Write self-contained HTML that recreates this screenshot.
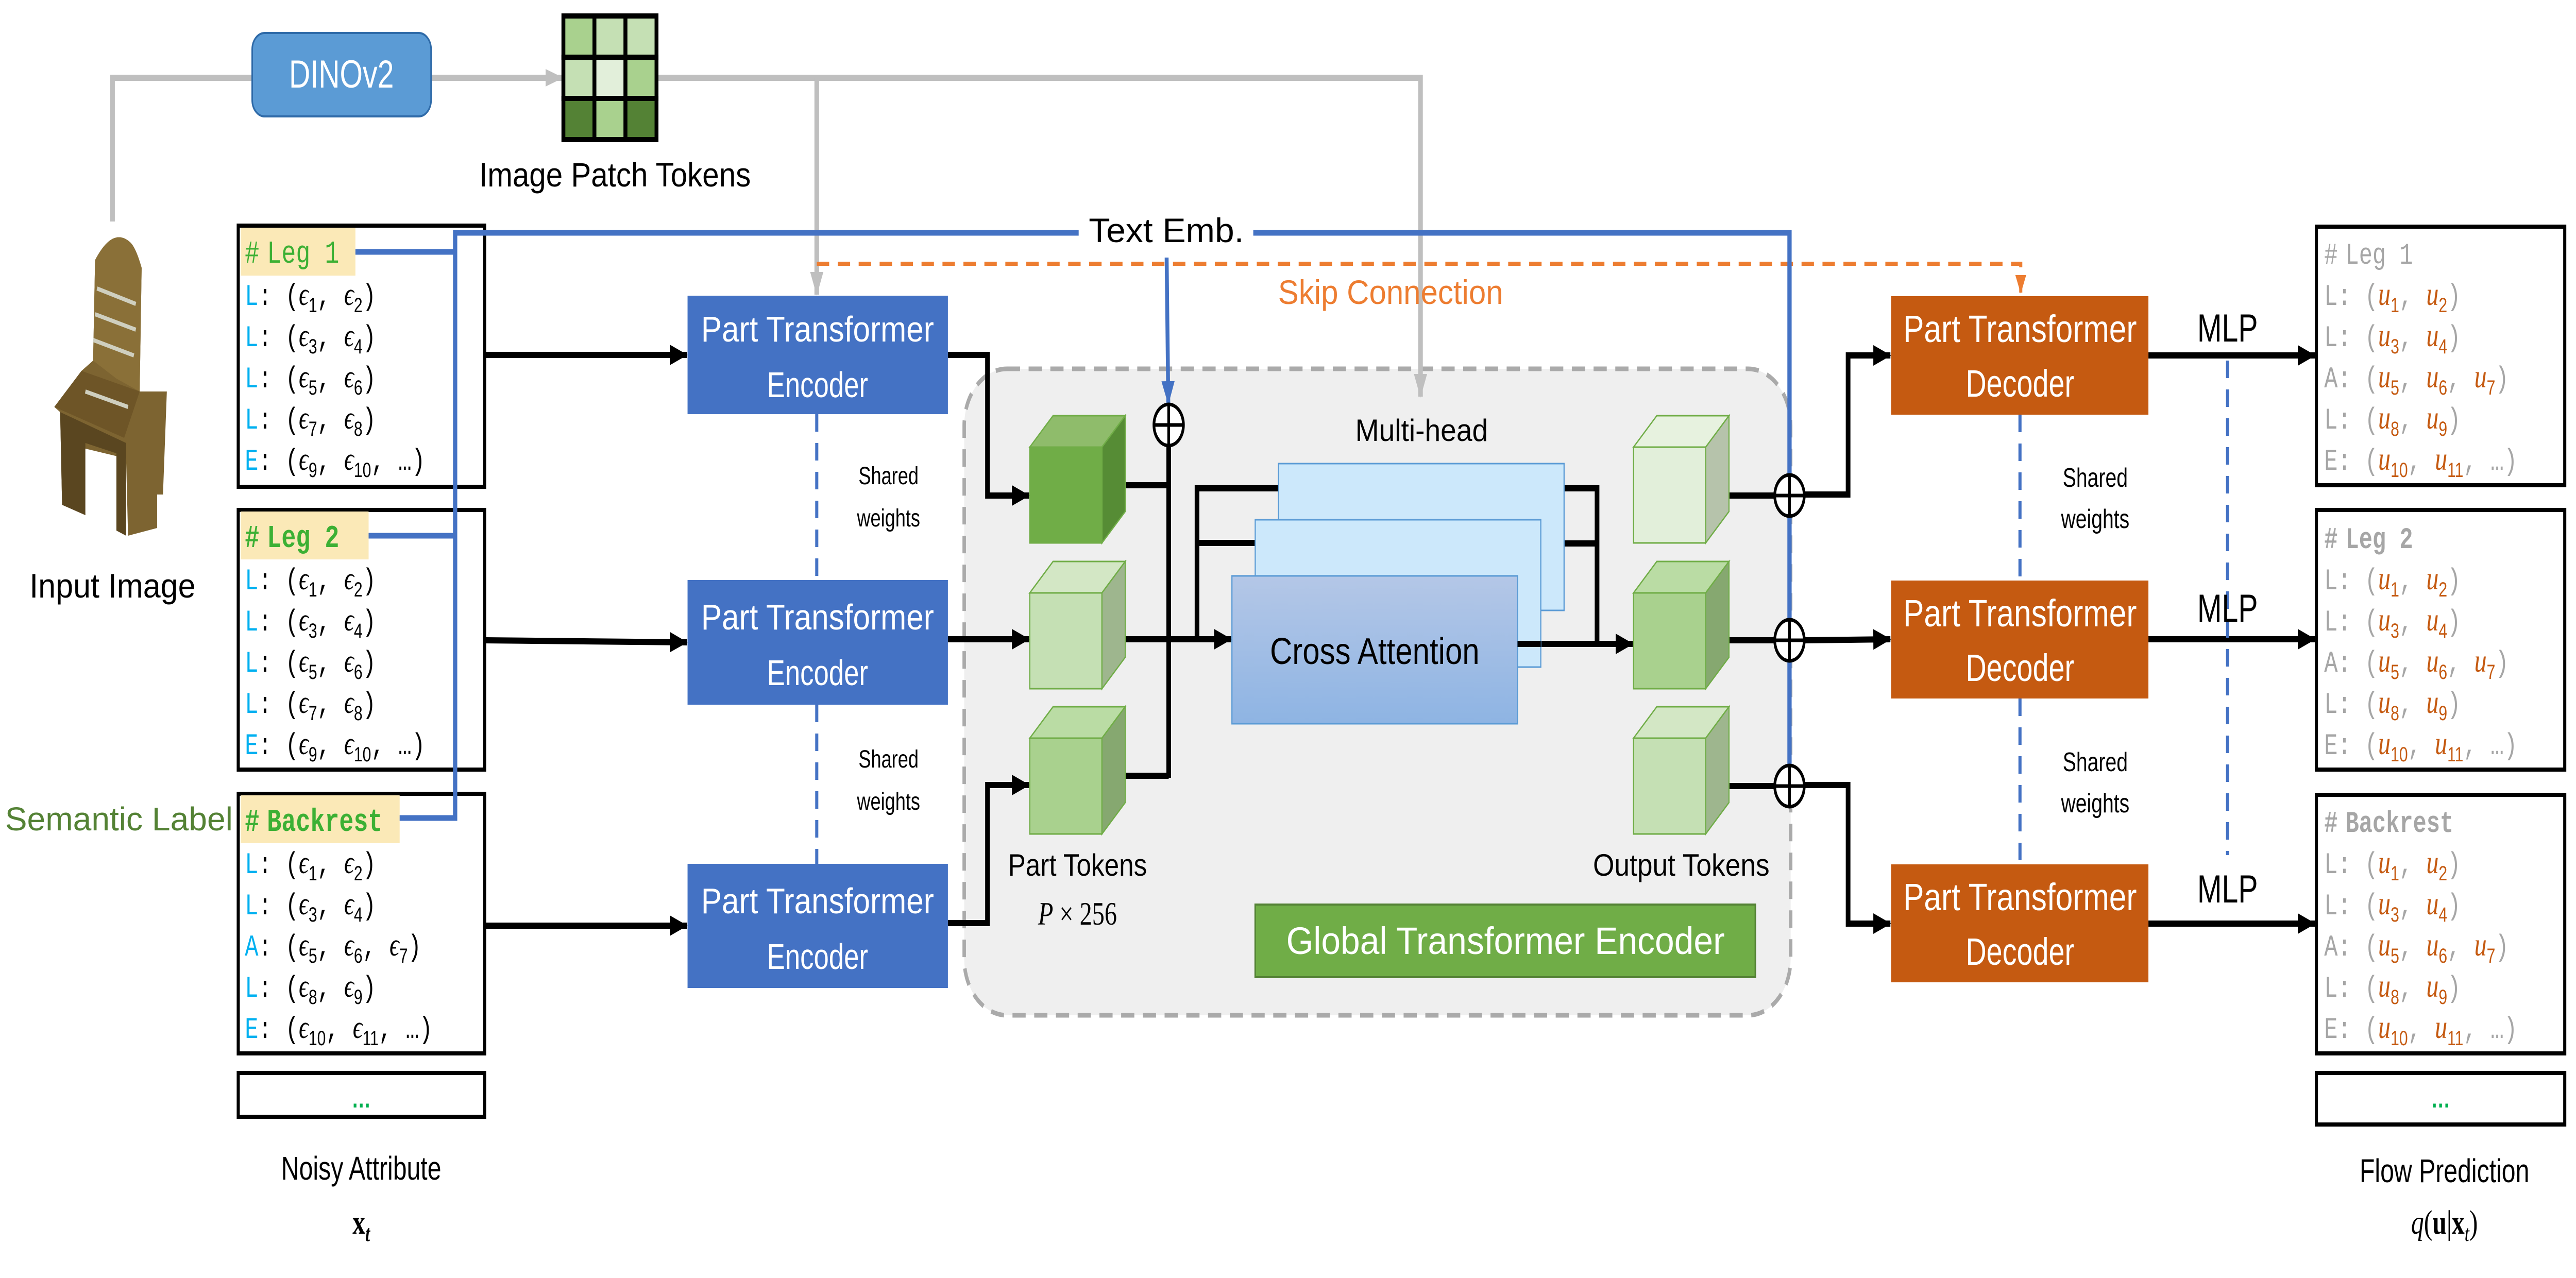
<!DOCTYPE html>
<html><head><meta charset="utf-8"><style>
html,body{margin:0;padding:0;background:#fff;width:100%;height:100%;overflow:hidden;}
svg{display:block;position:absolute;left:0;top:0;width:100vw;height:100vh;}
.sans{font-family:"Liberation Sans",sans-serif;}
.mono{font-family:"Liberation Mono",monospace;font-size:58px;fill:#000;}
.e{font-family:"Liberation Serif",serif;font-style:italic;font-size:62px;}
.s{font-family:"Liberation Sans",sans-serif;font-size:40px;}
.g{fill:#a6a6a6;}
.u{font-family:"Liberation Serif",serif;font-style:italic;font-size:64px;fill:#c55a11;}
.us{font-family:"Liberation Sans",sans-serif;font-size:40px;fill:#c55a11;}
</style></head><body>
<svg viewBox="0 0 6639 2481" preserveAspectRatio="none" xmlns="http://www.w3.org/2000/svg">
<defs>
<marker id="ak" markerUnits="userSpaceOnUse" markerWidth="50" markerHeight="50" refX="44" refY="25" orient="auto"><path d="M0,5 L46,25 L0,45 z" fill="#000"/></marker>
<marker id="ag" markerUnits="userSpaceOnUse" markerWidth="50" markerHeight="50" refX="44" refY="25" orient="auto"><path d="M0,8 L46,25 L0,42 z" fill="#bfbfbf"/></marker>
<marker id="ab" markerUnits="userSpaceOnUse" markerWidth="50" markerHeight="50" refX="44" refY="25" orient="auto"><path d="M0,8 L46,25 L0,42 z" fill="#4472c4"/></marker>
<marker id="ao" markerUnits="userSpaceOnUse" markerWidth="40" markerHeight="40" refX="34" refY="20" orient="auto"><path d="M0,6 L36,20 L0,34 z" fill="#ed7d31"/></marker>
<linearGradient id="ca" x1="0" y1="0" x2="0" y2="1"><stop offset="0" stop-color="#b4c7e7"/><stop offset="1" stop-color="#8eb4e3"/></linearGradient>
</defs>

<rect x="2485" y="716" width="2130" height="1255" rx="110" fill="#efefef" stroke="#aaaaaa" stroke-width="9" stroke-dasharray="34 22"/>

<polyline points="290,430 290,151 650,151" fill="none" stroke="#bfbfbf" stroke-width="12"/>
<line x1="1111" y1="151" x2="1450" y2="151" stroke="#bfbfbf" stroke-width="12" marker-end="url(#ag)"/>
<polyline points="1694,151 3661,151 3661,770" fill="none" stroke="#bfbfbf" stroke-width="12" marker-end="url(#ag)"/>
<line x1="2105" y1="151" x2="2105" y2="572" stroke="#bfbfbf" stroke-width="12" marker-end="url(#ag)"/>

<rect x="650" y="64" width="461" height="162" rx="32" fill="#5b9bd5" stroke="#2e6aa8" stroke-width="4"/>
<text x="880" y="170" text-anchor="middle" class="sans" font-size="76" fill="#fff">DINOv2</text>

<g stroke="#000" stroke-width="10">
<rect x="1452" y="31" width="80" height="80" fill="#a9d18e"/><rect x="1532" y="31" width="80" height="80" fill="#c5e0b4"/><rect x="1612" y="31" width="80" height="80" fill="#c5e0b4"/>
<rect x="1452" y="111" width="80" height="80" fill="#c5e0b4"/><rect x="1532" y="111" width="80" height="80" fill="#e2efda"/><rect x="1612" y="111" width="80" height="80" fill="#a9d18e"/>
<rect x="1452" y="191" width="80" height="80" fill="#548235"/><rect x="1532" y="191" width="80" height="80" fill="#a9d18e"/><rect x="1612" y="191" width="80" height="80" fill="#548235"/>
</g>
<text x="1585" y="362" text-anchor="middle" class="sans" font-size="66" textLength="700" lengthAdjust="spacingAndGlyphs">Image Patch Tokens</text>

<g>
<path d="M245,505 Q290,440 335,470 Q350,480 365,520 L360,760 L430,760 L420,960 L405,960 L405,1025 L330,1040 L325,890 L215,870 L220,1000 L160,980 L155,800 L140,790 L210,720 L240,700 Z" fill="#7d6431"/>
<path d="M245,505 Q290,440 335,470 Q350,480 365,520 L360,760 L300,735 L240,700 Z" fill="#8a7038"/>
<path d="M140,790 L210,720 L360,760 L320,850 Z" fill="#6e5527"/>
<path d="M155,800 L325,860 L325,1040 L300,1030 L300,880 L220,860 L220,1000 L160,980 Z" fill="#5a4620"/>
<path d="M250,560 L350,590 M245,610 L350,640 M240,660 L345,690 M220,760 L330,790" stroke="#cfcfbf" stroke-width="8" fill="none"/>
</g>
<text x="290" y="1160" text-anchor="middle" class="sans" font-size="66" textLength="428" lengthAdjust="spacingAndGlyphs">Input Image</text>
<text x="13" y="1612" class="sans" font-size="64" fill="#548235" textLength="587" lengthAdjust="spacingAndGlyphs">Semantic Label</text>

<g fill="#fff" stroke="#000" stroke-width="8">
<rect x="614" y="438" width="635" height="507"/>
<rect x="614" y="990" width="635" height="504"/>
<rect x="614" y="1541" width="635" height="504"/>
<rect x="614" y="2083" width="635" height="85"/>
</g>
<g fill="#fbe9b7"><rect x="620" y="442" width="296" height="93"/><rect x="620" y="993" width="330" height="93"/><rect x="620" y="1544" width="410" height="93"/></g>
<text x="931" y="2150" text-anchor="middle" fill="#00b050" class="sans" font-size="50" font-weight="bold">…</text>

<g class="mono">
<text x="631" y="510" fill="#3cb034" font-size="62">#<tspan dx="20">Leg 1</tspan></text>
<text x="631" y="592"><tspan fill="#00b0f0">L</tspan>: (<tspan class="e">ϵ</tspan><tspan class="s" dy="14">1</tspan><tspan dy="-14">,  </tspan><tspan class="e">ϵ</tspan><tspan class="s" dy="14">2</tspan><tspan dy="-14">)</tspan></text>
<text x="631" y="672"><tspan fill="#00b0f0">L</tspan>: (<tspan class="e">ϵ</tspan><tspan class="s" dy="14">3</tspan><tspan dy="-14">,  </tspan><tspan class="e">ϵ</tspan><tspan class="s" dy="14">4</tspan><tspan dy="-14">)</tspan></text>
<text x="631" y="752"><tspan fill="#00b0f0">L</tspan>: (<tspan class="e">ϵ</tspan><tspan class="s" dy="14">5</tspan><tspan dy="-14">,  </tspan><tspan class="e">ϵ</tspan><tspan class="s" dy="14">6</tspan><tspan dy="-14">)</tspan></text>
<text x="631" y="832"><tspan fill="#00b0f0">L</tspan>: (<tspan class="e">ϵ</tspan><tspan class="s" dy="14">7</tspan><tspan dy="-14">,  </tspan><tspan class="e">ϵ</tspan><tspan class="s" dy="14">8</tspan><tspan dy="-14">)</tspan></text>
<text x="631" y="912"><tspan fill="#00b0f0">E</tspan>: (<tspan class="e">ϵ</tspan><tspan class="s" dy="14">9</tspan><tspan dy="-14">,  </tspan><tspan class="e">ϵ</tspan><tspan class="s" dy="14">10</tspan><tspan dy="-14">,  …)</tspan></text>

<text x="631" y="1062" fill="#3cb034" font-size="62" font-weight="bold">#<tspan dx="20">Leg 2</tspan></text>
<text x="631" y="1144"><tspan fill="#00b0f0">L</tspan>: (<tspan class="e">ϵ</tspan><tspan class="s" dy="14">1</tspan><tspan dy="-14">,  </tspan><tspan class="e">ϵ</tspan><tspan class="s" dy="14">2</tspan><tspan dy="-14">)</tspan></text>
<text x="631" y="1224"><tspan fill="#00b0f0">L</tspan>: (<tspan class="e">ϵ</tspan><tspan class="s" dy="14">3</tspan><tspan dy="-14">,  </tspan><tspan class="e">ϵ</tspan><tspan class="s" dy="14">4</tspan><tspan dy="-14">)</tspan></text>
<text x="631" y="1304"><tspan fill="#00b0f0">L</tspan>: (<tspan class="e">ϵ</tspan><tspan class="s" dy="14">5</tspan><tspan dy="-14">,  </tspan><tspan class="e">ϵ</tspan><tspan class="s" dy="14">6</tspan><tspan dy="-14">)</tspan></text>
<text x="631" y="1384"><tspan fill="#00b0f0">L</tspan>: (<tspan class="e">ϵ</tspan><tspan class="s" dy="14">7</tspan><tspan dy="-14">,  </tspan><tspan class="e">ϵ</tspan><tspan class="s" dy="14">8</tspan><tspan dy="-14">)</tspan></text>
<text x="631" y="1464"><tspan fill="#00b0f0">E</tspan>: (<tspan class="e">ϵ</tspan><tspan class="s" dy="14">9</tspan><tspan dy="-14">,  </tspan><tspan class="e">ϵ</tspan><tspan class="s" dy="14">10</tspan><tspan dy="-14">,  …)</tspan></text>

<text x="631" y="1613" fill="#3cb034" font-size="62" font-weight="bold">#<tspan dx="20">Backrest</tspan></text>
<text x="631" y="1695"><tspan fill="#00b0f0">L</tspan>: (<tspan class="e">ϵ</tspan><tspan class="s" dy="14">1</tspan><tspan dy="-14">,  </tspan><tspan class="e">ϵ</tspan><tspan class="s" dy="14">2</tspan><tspan dy="-14">)</tspan></text>
<text x="631" y="1775"><tspan fill="#00b0f0">L</tspan>: (<tspan class="e">ϵ</tspan><tspan class="s" dy="14">3</tspan><tspan dy="-14">,  </tspan><tspan class="e">ϵ</tspan><tspan class="s" dy="14">4</tspan><tspan dy="-14">)</tspan></text>
<text x="631" y="1855"><tspan fill="#00b0f0">A</tspan>: (<tspan class="e">ϵ</tspan><tspan class="s" dy="14">5</tspan><tspan dy="-14">,  </tspan><tspan class="e">ϵ</tspan><tspan class="s" dy="14">6</tspan><tspan dy="-14">,  </tspan><tspan class="e">ϵ</tspan><tspan class="s" dy="14">7</tspan><tspan dy="-14">)</tspan></text>
<text x="631" y="1935"><tspan fill="#00b0f0">L</tspan>: (<tspan class="e">ϵ</tspan><tspan class="s" dy="14">8</tspan><tspan dy="-14">,  </tspan><tspan class="e">ϵ</tspan><tspan class="s" dy="14">9</tspan><tspan dy="-14">)</tspan></text>
<text x="631" y="2015"><tspan fill="#00b0f0">E</tspan>: (<tspan class="e">ϵ</tspan><tspan class="s" dy="14">10</tspan><tspan dy="-14">,  </tspan><tspan class="e">ϵ</tspan><tspan class="s" dy="14">11</tspan><tspan dy="-14">,  …)</tspan></text>
</g>
<text x="931" y="2290" text-anchor="middle" class="sans" font-size="64">Noisy Attribute</text>
<text x="931" y="2395" text-anchor="middle" font-family="Liberation Serif,serif" font-weight="bold" font-size="66">x<tspan font-size="44" dy="14" font-style="italic">t</tspan></text>

<g fill="#fff" stroke="#000" stroke-width="8">
<rect x="5970" y="440" width="640" height="502"/>
<rect x="5970" y="990" width="640" height="504"/>
<rect x="5970" y="1543" width="640" height="502"/>
<rect x="5970" y="2083" width="640" height="100"/>
</g>
<text x="6290" y="2150" text-anchor="middle" fill="#00b050" class="sans" font-size="50" font-weight="bold">…</text>
<g class="mono g">
<text x="5990" y="512">#<tspan dx="20">Leg 1</tspan></text>
<text x="5990" y="592">L: (<tspan class="u">u</tspan><tspan class="us" dy="14">1</tspan><tspan dy="-14">,  </tspan><tspan class="u">u</tspan><tspan class="us" dy="14">2</tspan><tspan dy="-14">)</tspan></text>
<text x="5990" y="672">L: (<tspan class="u">u</tspan><tspan class="us" dy="14">3</tspan><tspan dy="-14">,  </tspan><tspan class="u">u</tspan><tspan class="us" dy="14">4</tspan><tspan dy="-14">)</tspan></text>
<text x="5990" y="752">A: (<tspan class="u">u</tspan><tspan class="us" dy="14">5</tspan><tspan dy="-14">,  </tspan><tspan class="u">u</tspan><tspan class="us" dy="14">6</tspan><tspan dy="-14">,  </tspan><tspan class="u">u</tspan><tspan class="us" dy="14">7</tspan><tspan dy="-14">)</tspan></text>
<text x="5990" y="832">L: (<tspan class="u">u</tspan><tspan class="us" dy="14">8</tspan><tspan dy="-14">,  </tspan><tspan class="u">u</tspan><tspan class="us" dy="14">9</tspan><tspan dy="-14">)</tspan></text>
<text x="5990" y="912">E: (<tspan class="u">u</tspan><tspan class="us" dy="14">10</tspan><tspan dy="-14">,  </tspan><tspan class="u">u</tspan><tspan class="us" dy="14">11</tspan><tspan dy="-14">,  …)</tspan></text>

<text x="5990" y="1064" font-weight="bold">#<tspan dx="20">Leg 2</tspan></text>
<text x="5990" y="1144">L: (<tspan class="u">u</tspan><tspan class="us" dy="14">1</tspan><tspan dy="-14">,  </tspan><tspan class="u">u</tspan><tspan class="us" dy="14">2</tspan><tspan dy="-14">)</tspan></text>
<text x="5990" y="1224">L: (<tspan class="u">u</tspan><tspan class="us" dy="14">3</tspan><tspan dy="-14">,  </tspan><tspan class="u">u</tspan><tspan class="us" dy="14">4</tspan><tspan dy="-14">)</tspan></text>
<text x="5990" y="1304">A: (<tspan class="u">u</tspan><tspan class="us" dy="14">5</tspan><tspan dy="-14">,  </tspan><tspan class="u">u</tspan><tspan class="us" dy="14">6</tspan><tspan dy="-14">,  </tspan><tspan class="u">u</tspan><tspan class="us" dy="14">7</tspan><tspan dy="-14">)</tspan></text>
<text x="5990" y="1384">L: (<tspan class="u">u</tspan><tspan class="us" dy="14">8</tspan><tspan dy="-14">,  </tspan><tspan class="u">u</tspan><tspan class="us" dy="14">9</tspan><tspan dy="-14">)</tspan></text>
<text x="5990" y="1464">E: (<tspan class="u">u</tspan><tspan class="us" dy="14">10</tspan><tspan dy="-14">,  </tspan><tspan class="u">u</tspan><tspan class="us" dy="14">11</tspan><tspan dy="-14">,  …)</tspan></text>

<text x="5990" y="1615" font-weight="bold">#<tspan dx="20">Backrest</tspan></text>
<text x="5990" y="1695">L: (<tspan class="u">u</tspan><tspan class="us" dy="14">1</tspan><tspan dy="-14">,  </tspan><tspan class="u">u</tspan><tspan class="us" dy="14">2</tspan><tspan dy="-14">)</tspan></text>
<text x="5990" y="1775">L: (<tspan class="u">u</tspan><tspan class="us" dy="14">3</tspan><tspan dy="-14">,  </tspan><tspan class="u">u</tspan><tspan class="us" dy="14">4</tspan><tspan dy="-14">)</tspan></text>
<text x="5990" y="1855">A: (<tspan class="u">u</tspan><tspan class="us" dy="14">5</tspan><tspan dy="-14">,  </tspan><tspan class="u">u</tspan><tspan class="us" dy="14">6</tspan><tspan dy="-14">,  </tspan><tspan class="u">u</tspan><tspan class="us" dy="14">7</tspan><tspan dy="-14">)</tspan></text>
<text x="5990" y="1935">L: (<tspan class="u">u</tspan><tspan class="us" dy="14">8</tspan><tspan dy="-14">,  </tspan><tspan class="u">u</tspan><tspan class="us" dy="14">9</tspan><tspan dy="-14">)</tspan></text>
<text x="5990" y="2015">E: (<tspan class="u">u</tspan><tspan class="us" dy="14">10</tspan><tspan dy="-14">,  </tspan><tspan class="u">u</tspan><tspan class="us" dy="14">11</tspan><tspan dy="-14">,  …)</tspan></text>
</g>
<text x="6300" y="2295" text-anchor="middle" class="sans" font-size="64">Flow Prediction</text>
<text x="6300" y="2395" text-anchor="middle" font-family="Liberation Serif,serif" font-size="66"><tspan font-style="italic">q</tspan>(<tspan font-weight="bold">u</tspan>|<tspan font-weight="bold">x</tspan><tspan font-size="44" dy="14" font-style="italic">t</tspan><tspan dy="-14">)</tspan></text>

<polyline points="2105,512 5208,512 5208,568" fill="none" stroke="#ed7d31" stroke-width="8" stroke-dasharray="32 22" marker-end="url(#ao)"/>
<text x="3584" y="590" text-anchor="middle" class="sans" font-size="66" fill="#ed7d31" textLength="580" lengthAdjust="spacingAndGlyphs">Skip Connection</text>

<g fill="none" stroke="#4472c4" stroke-width="11">
<polyline points="916,489 1173,489"/>
<polyline points="950,1040 1173,1040"/>
<polyline points="1030,1588 1173,1588 1173,452 4612,452 4612,1526"/>
</g>
<line x1="3006" y1="452" x2="3011" y2="784" stroke="#4472c4" stroke-width="10" marker-end="url(#ab)"/>
<rect x="2780" y="400" width="450" height="100" fill="#fff"/>
<text x="3006" y="470" text-anchor="middle" class="sans" font-size="66" textLength="400" lengthAdjust="spacingAndGlyphs">Text Emb.</text>

<g fill="#4472c4"><rect x="1772" y="574" width="671" height="230"/><rect x="1772" y="1126" width="671" height="242"/><rect x="1772" y="1677" width="671" height="241"/></g>
<g class="sans" font-size="70" fill="#fff" text-anchor="middle">
<text x="2107" y="663" textLength="600" lengthAdjust="spacingAndGlyphs">Part Transformer</text><text x="2107" y="771">Encoder</text>
<text x="2107" y="1222" textLength="600" lengthAdjust="spacingAndGlyphs">Part Transformer</text><text x="2107" y="1330">Encoder</text>
<text x="2107" y="1773" textLength="600" lengthAdjust="spacingAndGlyphs">Part Transformer</text><text x="2107" y="1881">Encoder</text>
</g>
<g stroke="#4472c4" stroke-width="8" stroke-dasharray="34 22"><line x1="2105" y1="804" x2="2105" y2="1126"/><line x1="2105" y1="1368" x2="2105" y2="1677"/></g>
<g class="sans" font-size="48" text-anchor="middle"><text x="2290" y="940">Shared</text><text x="2290" y="1022">weights</text><text x="2290" y="1490">Shared</text><text x="2290" y="1572">weights</text></g>

<g stroke="#000" stroke-width="12" fill="none">
<line x1="1249" y1="689" x2="1770" y2="689" marker-end="url(#ak)"/>
<line x1="1249" y1="1243" x2="1770" y2="1247" marker-end="url(#ak)"/>
<line x1="1249" y1="1797" x2="1770" y2="1797" marker-end="url(#ak)"/>
<polyline points="2443,689 2545,689 2545,962 2652,962" marker-end="url(#ak)"/>
<line x1="2443" y1="1241" x2="2652" y2="1241" marker-end="url(#ak)"/>
<polyline points="2443,1792 2545,1792 2545,1524 2652,1524" marker-end="url(#ak)"/>
<polyline points="2900,942 3012,942"/>
<line x1="3012" y1="865" x2="3012" y2="1510"/>
<polyline points="2895,1506 3012,1506"/>
<line x1="2900" y1="1241" x2="3173" y2="1241" marker-end="url(#ak)"/>
<polyline points="3295,948 3085,948 3085,1241"/>
<line x1="3085" y1="1054" x2="3235" y2="1054"/>
<polyline points="4031,948 4116,948 4116,1250"/>
<line x1="3971" y1="1055" x2="4116" y2="1055"/>
<line x1="3911" y1="1250" x2="4208" y2="1250" marker-end="url(#ak)"/>
<line x1="4395" y1="962" x2="4612" y2="962"/>
<line x1="4395" y1="1243" x2="4612" y2="1243"/>
<line x1="4395" y1="1526" x2="4612" y2="1526"/>
<polyline points="4652,960 4763,960 4763,690 4872,690" marker-end="url(#ak)"/>
<line x1="4652" y1="1243" x2="4872" y2="1241" marker-end="url(#ak)"/>
<polyline points="4652,1524 4763,1524 4763,1793 4872,1793" marker-end="url(#ak)"/>
<line x1="5537" y1="690" x2="5966" y2="690" marker-end="url(#ak)"/>
<line x1="5537" y1="1241" x2="5966" y2="1241" marker-end="url(#ak)"/>
<line x1="5537" y1="1793" x2="5966" y2="1793" marker-end="url(#ak)"/>
</g>

<g fill="#fff" stroke="#000" stroke-width="7">
<ellipse cx="3012" cy="825" rx="38" ry="40"/><ellipse cx="4612" cy="962" rx="38" ry="40"/><ellipse cx="4612" cy="1243" rx="38" ry="40"/><ellipse cx="4612" cy="1526" rx="38" ry="40"/>
</g>
<g stroke="#000" stroke-width="7">
<line x1="2974" y1="825" x2="3050" y2="825"/><line x1="3012" y1="785" x2="3012" y2="865"/>
<line x1="4574" y1="962" x2="4650" y2="962"/><line x1="4612" y1="922" x2="4612" y2="1002"/>
<line x1="4574" y1="1243" x2="4650" y2="1243"/><line x1="4612" y1="1203" x2="4612" y2="1283"/>
<line x1="4574" y1="1526" x2="4650" y2="1526"/><line x1="4612" y1="1486" x2="4612" y2="1566"/>
</g>

<g stroke="#70ad47" stroke-width="3">
<rect x="2654" y="868" width="186" height="186" fill="#70ad47"/><polygon points="2654,868 2714,807 2900,807 2840,868" fill="#8fbc6b"/><polygon points="2840,868 2900,807 2900,993 2840,1054" fill="#568c35"/>
<rect x="2654" y="1151" width="186" height="186" fill="#c5e0b4"/><polygon points="2654,1151 2714,1090 2900,1090 2840,1151" fill="#d3e7c5"/><polygon points="2840,1151 2900,1090 2900,1276 2840,1337" fill="#9eb68e"/>
<rect x="2654" y="1433" width="186" height="186" fill="#a9d18e"/><polygon points="2654,1433 2714,1372 2900,1372 2840,1433" fill="#badca4"/><polygon points="2840,1433 2900,1372 2900,1558 2840,1619" fill="#86a870"/>
<rect x="4210" y="868" width="186" height="186" fill="#e2efda"/><polygon points="4210,868 4270,807 4456,807 4396,868" fill="#e7f2df"/><polygon points="4396,868 4456,807 4456,993 4396,1054" fill="#b6c3ab"/>
<rect x="4210" y="1151" width="186" height="186" fill="#a9d18e"/><polygon points="4210,1151 4270,1090 4456,1090 4396,1151" fill="#badca4"/><polygon points="4396,1151 4456,1090 4456,1276 4396,1337" fill="#86a870"/>
<rect x="4210" y="1433" width="186" height="186" fill="#c5e0b4"/><polygon points="4210,1433 4270,1372 4456,1372 4396,1433" fill="#d3e7c5"/><polygon points="4396,1433 4456,1372 4456,1558 4396,1619" fill="#9eb68e"/>
</g>

<rect x="3295" y="900" width="736" height="285" fill="#cce8fb" stroke="#5b9bd5" stroke-width="3"/>
<rect x="3235" y="1009" width="736" height="286" fill="#cce8fb" stroke="#5b9bd5" stroke-width="3"/>
<rect x="3175" y="1118" width="736" height="287" fill="url(#ca)" stroke="#5b9bd5" stroke-width="3"/>
<line x1="3911" y1="1250" x2="3971" y2="1250" stroke="#000" stroke-width="12"/>
<text x="3543" y="1289" text-anchor="middle" class="sans" font-size="72" textLength="540" lengthAdjust="spacingAndGlyphs">Cross Attention</text>
<text x="3664" y="856" text-anchor="middle" class="sans" font-size="60" textLength="342" lengthAdjust="spacingAndGlyphs">Multi-head</text>
<text x="2777" y="1700" text-anchor="middle" class="sans" font-size="60" textLength="358" lengthAdjust="spacingAndGlyphs">Part Tokens</text>
<text x="2777" y="1795" text-anchor="middle" font-family="Liberation Serif,serif" font-size="64"><tspan font-style="italic">P</tspan> × 256</text>
<text x="4333" y="1700" text-anchor="middle" class="sans" font-size="60" textLength="455" lengthAdjust="spacingAndGlyphs">Output Tokens</text>
<rect x="3235" y="1756" width="1289" height="141" fill="#70ad47" stroke="#548235" stroke-width="4"/>
<text x="3880" y="1852" text-anchor="middle" class="sans" font-size="74" fill="#fff" textLength="1130" lengthAdjust="spacingAndGlyphs">Global Transformer Encoder</text>

<g fill="#c55a11"><rect x="4874" y="575" width="663" height="230"/><rect x="4874" y="1127" width="663" height="229"/><rect x="4874" y="1678" width="663" height="229"/></g>
<g class="sans" font-size="74" fill="#fff" text-anchor="middle">
<text x="5206" y="664" textLength="602" lengthAdjust="spacingAndGlyphs">Part Transformer</text><text x="5206" y="770">Decoder</text>
<text x="5206" y="1216" textLength="602" lengthAdjust="spacingAndGlyphs">Part Transformer</text><text x="5206" y="1322">Decoder</text>
<text x="5206" y="1767" textLength="602" lengthAdjust="spacingAndGlyphs">Part Transformer</text><text x="5206" y="1873">Decoder</text>
</g>
<g stroke="#4472c4" stroke-width="8" stroke-dasharray="34 22"><line x1="5206" y1="805" x2="5206" y2="1127"/><line x1="5206" y1="1356" x2="5206" y2="1678"/><line x1="5741" y1="700" x2="5741" y2="1660"/></g>
<g class="sans" font-size="52" text-anchor="middle"><text x="5400" y="945">Shared</text><text x="5400" y="1025">weights</text><text x="5400" y="1497">Shared</text><text x="5400" y="1577">weights</text></g>
<g class="sans" font-size="76" text-anchor="middle"><text x="5741" y="663">MLP</text><text x="5741" y="1207">MLP</text><text x="5741" y="1752">MLP</text></g>
</svg>
</body></html>
